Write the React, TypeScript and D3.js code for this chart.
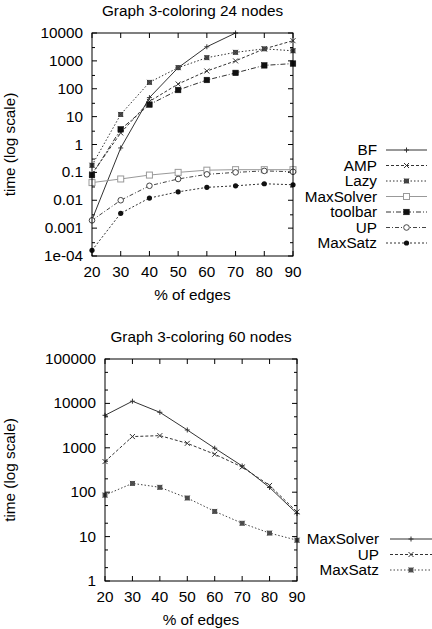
import React from "react";
import * as d3 from "d3";

const xTicks = [20, 30, 40, 50, 60, 70, 80, 90];

// Chart 1: 24 nodes
const bfX = [20, 30, 40, 50, 60, 70];
const bfY = [0.002, 0.75, 48, 570, 3200, 10000];
const ampY = [0.09, 2.6, 35, 148, 433, 1000, 2700, 5300];
const lazyY = [0.18, 12, 170, 570, 1300, 2030, 2700, 2300];
const maxSolverY = [0.043, 0.058, 0.08, 0.1, 0.12, 0.125, 0.125, 0.125];
const toolbarY = [0.08, 3.5, 27, 90, 206, 370, 690, 800];
const upY = [0.0019, 0.01, 0.033, 0.058, 0.085, 0.1, 0.113, 0.105];
const maxSatzY = [0.00016, 0.0034, 0.012, 0.02, 0.029, 0.033, 0.039, 0.036];
const yTicks1 = [1e-4, 1e-3, 1e-2, 0.1, 1, 10, 100, 1000, 10000];
const yTickLabels1 = ["1e-04", "0.001", "0.01", "0.1", "1", "10", "100", "1000", "10000"];

// Chart 2: 60 nodes
const ms2Y = [5400, 11200, 6300, 2520, 980, 390, 128, 33];
const up2Y = [490, 1790, 1880, 1260, 716, 370, 142, 36];
const satz2Y = [86, 158, 129, 74, 37, 20, 12, 8.3];
const yTicks2 = [1, 10, 100, 1000, 10000, 100000];
const yTickLabels2 = ["1", "10", "100", "1000", "10000", "100000"];

const FONT = "'Liberation Sans', Arial, sans-serif";
const FS = 15.3;

type Marker = "plus" | "cross" | "boxstar" | "opensq" | "filledsq" | "opencirc" | "filledcirc";

interface Series {
  name: string;
  xs: number[];
  ys: number[];
  dash: string;
  color: string;
  marker: Marker;
}

function MarkerShape({ type, x, y, color }: { type: Marker; x: number; y: number; color: string }) {
  const s = 2.5;
  switch (type) {
    case "plus":
      return (
        <g stroke={color} strokeWidth={1}>
          <line x1={x - s} x2={x + s} y1={y} y2={y} />
          <line x1={x} x2={x} y1={y - s} y2={y + s} />
        </g>
      );
    case "cross":
      return (
        <g stroke={color} strokeWidth={1}>
          <line x1={x - s} x2={x + s} y1={y - s} y2={y + s} />
          <line x1={x - s} x2={x + s} y1={y + s} y2={y - s} />
        </g>
      );
    case "boxstar":
      return (
        <g stroke={color} strokeWidth={0.8}>
          <rect x={x - 2} y={y - 2} width={4} height={4} fill="#555" />
          <line x1={x - 2.5} x2={x + 2.5} y1={y - 2.5} y2={y + 2.5} />
          <line x1={x - 2.5} x2={x + 2.5} y1={y + 2.5} y2={y - 2.5} />
        </g>
      );
    case "opensq":
      return <rect x={x - 3} y={y - 3} width={6} height={6} fill="white" stroke={color} strokeWidth={1} />;
    case "filledsq":
      return <rect x={x - 2.8} y={y - 2.8} width={5.6} height={5.6} fill="#111" stroke="#111" strokeWidth={0.5} />;
    case "opencirc":
      return <circle cx={x} cy={y} r={2.8} fill="white" stroke={color} strokeWidth={1} />;
    case "filledcirc":
      return <circle cx={x} cy={y} r={2.6} fill="#111" />;
  }
  return null;
}

interface ChartProps {
  title: string;
  left: number;
  right: number;
  top: number;
  bottom: number;
  yDomain: [number, number];
  yTicks: number[];
  yTickLabels: string[];
  minorMults: number[];
  series: Series[];
  legendRight: number;
  legendLineX1: number;
  legendLineX2: number;
  legendTop: number;
  legendStep: number;
}

function Chart(p: ChartProps) {
  const x = d3.scaleLinear().domain([20, 90]).range([p.left, p.right]);
  const y = d3.scaleLog().domain(p.yDomain).range([p.bottom, p.top]);
  const line = d3
    .line<[number, number]>()
    .x((d) => x(d[0]))
    .y((d) => y(d[1]));

  const minor: number[] = [];
  for (let i = 0; i < p.yTicks.length - 1; i++) {
    for (const m of p.minorMults) minor.push(p.yTicks[i] * m);
  }
  const cx = (p.left + p.right) / 2;
  const cy = (p.top + p.bottom) / 2;
  const major = 5;
  const mnr = 3;

  return (
    <g fontFamily={FONT} fontSize={FS} fill="#000">
      <text x={cx} y={p.top - 17} textAnchor="middle">
        {p.title}
      </text>
      <defs>
        <clipPath id={"clip" + p.top}>
          <rect x={p.left} y={p.top - 0.5} width={p.right - p.left} height={p.bottom - p.top + 1} />
        </clipPath>
      </defs>
      <g stroke="#000" strokeWidth={1}>
        {xTicks.map((t) => (
          <g key={"xt" + t}>
            <line x1={x(t)} x2={x(t)} y1={p.bottom} y2={p.bottom - major} />
            <line x1={x(t)} x2={x(t)} y1={p.top} y2={p.top + major} />
          </g>
        ))}
        {p.yTicks.map((t) => (
          <g key={"yt" + t}>
            <line x1={p.left} x2={p.left + major} y1={y(t)} y2={y(t)} />
            <line x1={p.right} x2={p.right - major} y1={y(t)} y2={y(t)} />
          </g>
        ))}
        {minor.map((t, i) => (
          <g key={"ym" + i}>
            <line x1={p.left} x2={p.left + mnr} y1={y(t)} y2={y(t)} />
            <line x1={p.right} x2={p.right - mnr} y1={y(t)} y2={y(t)} />
          </g>
        ))}
      </g>
      {xTicks.map((t) => (
        <text key={"xl" + t} x={x(t)} y={p.bottom + 21} textAnchor="middle">
          {t}
        </text>
      ))}
      {p.yTicks.map((t, i) => (
        <text key={"yl" + t} x={p.left - 9} y={y(t) + 5} textAnchor="end">
          {p.yTickLabels[i]}
        </text>
      ))}
      <text x={cx} y={p.bottom + 44} textAnchor="middle">
        % of edges
      </text>
      <text transform={`translate(15,${cy}) rotate(-90)`} textAnchor="middle">
        time (log scale)
      </text>
      <g clipPath={`url(#clip${p.top})`}>
        {p.series.map((s) => (
          <path
            key={"l" + s.name}
            d={line(s.xs.map((xv, i) => [xv, s.ys[i]] as [number, number])) || ""}
            fill="none"
            stroke={s.color}
            strokeWidth={1}
            strokeDasharray={s.dash}
          />
        ))}
      </g>
      {p.series.map((s) => (
        <g key={"m" + s.name}>
          {s.xs.map((xv, i) =>
            s.ys[i] <= p.yDomain[1] * 1.0001 ? (
              <MarkerShape key={i} type={s.marker} x={x(xv)} y={y(s.ys[i])} color={s.color} />
            ) : null
          )}
        </g>
      ))}
      <rect x={p.left} y={p.top} width={p.right - p.left} height={p.bottom - p.top} fill="none" stroke="#000" strokeWidth={1} />
      {p.series.map((s, i) => {
        const ly = p.legendTop + i * p.legendStep;
        return (
          <g key={"lg" + s.name}>
            <text x={p.legendRight} y={ly + 5} textAnchor="end">
              {s.name}
            </text>
            <line x1={p.legendLineX1} x2={p.legendLineX2} y1={ly} y2={ly} stroke={s.color} strokeDasharray={s.dash} />
            <MarkerShape type={s.marker} x={(p.legendLineX1 + p.legendLineX2) / 2} y={ly} color={s.color} />
          </g>
        );
      })}
    </g>
  );
}

export default function App() {
  const series1: Series[] = [
    { name: "BF", xs: bfX, ys: bfY, dash: "", color: "#333", marker: "plus" },
    { name: "AMP", xs: xTicks, ys: ampY, dash: "3,2", color: "#333", marker: "cross" },
    { name: "Lazy", xs: xTicks, ys: lazyY, dash: "1.5,2", color: "#333", marker: "boxstar" },
    { name: "MaxSolver", xs: xTicks, ys: maxSolverY, dash: "", color: "#999", marker: "opensq" },
    { name: "toolbar", xs: xTicks, ys: toolbarY, dash: "5,2,1,2", color: "#333", marker: "filledsq" },
    { name: "UP", xs: xTicks, ys: upY, dash: "4,2,1,2", color: "#444", marker: "opencirc" },
    { name: "MaxSatz", xs: xTicks, ys: maxSatzY, dash: "2,2", color: "#333", marker: "filledcirc" },
  ];
  const series2: Series[] = [
    { name: "MaxSolver", xs: xTicks, ys: ms2Y, dash: "", color: "#333", marker: "plus" },
    { name: "UP", xs: xTicks, ys: up2Y, dash: "3,2", color: "#333", marker: "cross" },
    { name: "MaxSatz", xs: xTicks, ys: satz2Y, dash: "1.5,2", color: "#444", marker: "boxstar" },
  ];
  return (
    <svg width={432} height={629} style={{ position: "absolute", left: 0, top: 0, background: "white" }}>
      <rect width={432} height={629} fill="white" />
      <Chart
        title="Graph 3-coloring 24 nodes"
        left={92}
        right={293}
        top={33}
        bottom={256}
        yDomain={[1e-4, 1e4]}
        yTicks={yTicks1}
        yTickLabels={yTickLabels1}
        minorMults={[3]}
        series={series1}
        legendRight={377}
        legendLineX1={386}
        legendLineX2={427}
        legendTop={150}
        legendStep={15.5}
      />
      <Chart
        title="Graph 3-coloring 60 nodes"
        left={105}
        right={297}
        top={359}
        bottom={581}
        yDomain={[1, 1e5]}
        yTicks={yTicks2}
        yTickLabels={yTickLabels2}
        minorMults={[2, 5]}
        series={series2}
        legendRight={379}
        legendLineX1={390}
        legendLineX2={432}
        legendTop={539}
        legendStep={15.5}
      />
    </svg>
  );
}
